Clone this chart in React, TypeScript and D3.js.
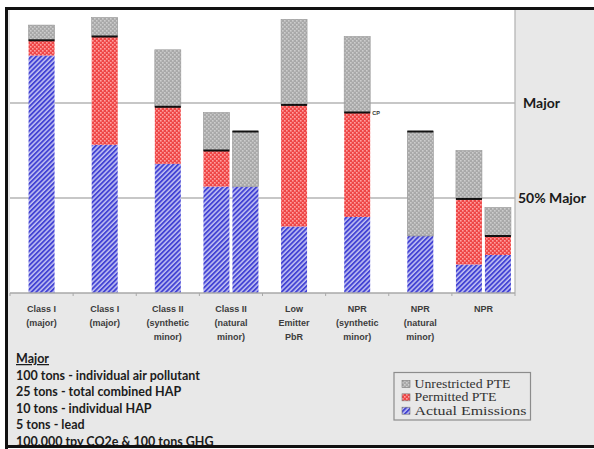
import * as d3 from 'd3';
import React from 'react';

// category labels (wrapped like the original axis)
const categories: string[][] = [
  ["Class I", "(major)"],
  ["Class I", "(major)"],
  ["Class II", "(synthetic", "minor)"],
  ["Class II", "(natural", "minor)"],
  ["Low", "Emitter", "PbR"],
  ["NPR", "(synthetic", "minor)"],
  ["NPR", "(natural", "minor)"],
  ["NPR"],
];

// one entry per bar: which category it sits in
const barCategory = [0, 1, 2, 3, 3, 4, 5, 6, 7, 7];
// values in % of the major source threshold
const actual = [125, 78, 68, 56, 56, 35, 40, 30, 15, 20];
const permitted = [133, 135, 98, 75, 56, 99, 95, 30, 49.5, 30];
const unrestricted = [141, 145, 128, 95, 85, 144, 135, 85, 75, 45];
const limitLine = [133, 135, 98, 75, 85, 99, 95, 85, 49.5, 30];

const thresholds = [
  { value: 100, label: "Major" },
  { value: 50, label: "50% Major" },
];

const notes = [
  "Major",
  "100 tons - individual air pollutant",
  "25 tons - total combined HAP",
  "10 tons - individual HAP",
  "5 tons - lead",
  "100,000 tpy CO2e & 100 tons GHG",
];

const legendItems = [
  { label: "Unrestricted PTE", fill: "url(#pUnres)", len: 96 },
  { label: "Permitted PTE", fill: "url(#pPerm)", len: 82 },
  { label: "Actual Emissions", fill: "url(#pAct)", len: 112 },
];

const W = 594;
const H = 449;
const plot = { left: 10, right: 515, top: 10, bottom: 293 };

export default function App() {
  const x = d3
    .scaleBand<number>()
    .domain(d3.range(categories.length))
    .range([plot.left, plot.right])
    .padding(0);

  const y = d3.scaleLinear().domain([0, 100]).range([plot.bottom, 103]);

  const barW = 26;
  const gap = 3;

  // x position of each bar inside its band
  const barX = barCategory.map((c, i) => {
    const siblings = barCategory.filter((b) => b === c).length;
    const idx = barCategory.slice(0, i).filter((b) => b === c).length;
    const groupW = siblings * barW + (siblings - 1) * gap;
    const center = (x(c) as number) + x.bandwidth() / 2;
    return center - groupW / 2 + idx * (barW + gap);
  });

  const ticks = d3.range(categories.length + 1).map((i) => plot.left + i * x.step());

  return (
    <svg
      width={W}
      height={H}
      style={{ position: "absolute", left: 0, top: 0 }}
    >
      <defs>
        <pattern id="pAct" width="3.4" height="3.4" patternUnits="userSpaceOnUse" patternTransform="rotate(45)">
          <rect width="3.4" height="3.4" fill="#c2c2f2" />
          <rect width="1.9" height="3.4" fill="#4444d4" />
        </pattern>
        <pattern id="pPerm" width="4" height="4" patternUnits="userSpaceOnUse">
          <rect width="4" height="4" fill="#ee4646" />
          <rect x="0" y="0" width="1.6" height="1.6" fill="#ffa0a0" />
          <rect x="2" y="2" width="1.6" height="1.6" fill="#ffa0a0" />
        </pattern>
        <pattern id="pUnres" width="4" height="4" patternUnits="userSpaceOnUse">
          <rect width="4" height="4" fill="#a9a9a9" />
          <rect x="0" y="0" width="1.6" height="1.6" fill="#cdcdcd" />
          <rect x="2" y="2" width="1.6" height="1.6" fill="#cdcdcd" />
        </pattern>
      </defs>

      {/* page + frame background */}
      <rect x={0} y={0} width={W} height={H} fill="#ffffff" />
      <rect x={5} y={7} width={W - 5} height={440} fill="#e8e8e8" />

      {/* plot area */}
      <rect
        x={plot.left}
        y={plot.top}
        width={plot.right - plot.left}
        height={plot.bottom - plot.top}
        fill="#ffffff"
      />
      <line x1={plot.right} x2={plot.right} y1={plot.top} y2={plot.bottom} stroke="#b0b0b0" strokeWidth={1.2} />

      {thresholds.map((t) => (
        <g key={t.label}>
          <line
            x1={plot.left}
            x2={plot.right}
            y1={y(t.value)}
            y2={y(t.value)}
            stroke="#b4b4b4"
            strokeWidth={1.5}
          />
          <text
            x={t.value === 100 ? 523 : 518}
            y={y(t.value) + 5}
            fontFamily="Lato"
            fontWeight="bold"
            fontSize={14}
            fill="#1a1a1a"
          >
            {t.label}
          </text>
        </g>
      ))}

      {/* bars */}
      {barCategory.map((_, i) => {
        const bx = barX[i];
        return (
          <g key={i}>
            <rect x={bx} y={y(actual[i])} width={barW} height={y(0) - y(actual[i])} fill="url(#pAct)" />
            {permitted[i] > actual[i] && (
              <rect
                x={bx}
                y={y(permitted[i])}
                width={barW}
                height={y(actual[i]) - y(permitted[i])}
                fill="url(#pPerm)"
              />
            )}
            {unrestricted[i] > permitted[i] && (
              <rect
                x={bx}
                y={y(unrestricted[i])}
                width={barW}
                height={y(permitted[i]) - y(unrestricted[i])}
                fill="url(#pUnres)"
                stroke="#959595"
                strokeWidth={0.6}
              />
            )}
            <line
              x1={bx}
              x2={bx + barW}
              y1={y(limitLine[i])}
              y2={y(limitLine[i])}
              stroke="#111"
              strokeWidth={2}
            />
          </g>
        );
      })}
      <text x={barX[6] + barW + 2} y={y(limitLine[6]) + 2.5} fontFamily="Liberation Sans" fontWeight="bold" fontSize={5.5} fill="#333">
        CP
      </text>

      {/* axis */}
      <line x1={plot.left} x2={plot.right} y1={plot.bottom} y2={plot.bottom} stroke="#a8a8a8" strokeWidth={1.4} />
      {ticks.map((t, i) => (
        <line key={i} x1={t} x2={t} y1={plot.bottom} y2={plot.bottom + 3} stroke="#a8a8a8" strokeWidth={1} />
      ))}
      {categories.map((lines, c) => (
        <text
          key={c}
          x={(x(c) as number) + x.bandwidth() / 2}
          y={312}
          textAnchor="middle"
          fontFamily="Liberation Sans"
          fontWeight="bold"
          fontSize={9}
          fill="#3c3c3c"
        >
          {lines.map((l, j) => (
            <tspan key={j} x={(x(c) as number) + x.bandwidth() / 2} dy={j === 0 ? 0 : 14}>
              {l}
            </tspan>
          ))}
        </text>
      ))}

      {/* notes */}
      {notes.map((n, i) => (
        <text
          key={i}
          x={16}
          y={363 + i * 16.6}
          fontFamily="Lato"
          fontWeight="bold"
          fontSize={12.5}
          fill="#1c1c1c"
          textDecoration={i === 0 ? "underline" : undefined}
        >
          {n}
        </text>
      ))}

      {/* legend */}
      <rect x={394} y={372.5} width={136.5} height={47.5} fill="none" stroke="#8c8c8c" strokeWidth={1.2} />
      {legendItems.map((item, i) => {
        const cy = 384 + i * 13.35;
        return (
          <g key={item.label}>
            <rect x={402} y={cy - 3.5} width={8} height={7} fill={item.fill} stroke="#777" strokeWidth={0.6} />
            <text
              x={414.5}
              y={cy + 4}
              fontFamily="Liberation Serif"
              fontSize={12.5}
              fill="#333"
              textLength={item.len}
              lengthAdjust="spacingAndGlyphs"
            >
              {item.label}
            </text>
          </g>
        );
      })}

      {/* black frame */}
      <path d="M6.5,449 V8.5 H594" fill="none" stroke="#111" strokeWidth={3} />
      <line x1={5} x2={W} y1={446.5} y2={446.5} stroke="#111" strokeWidth={3} />
    </svg>
  );
}
